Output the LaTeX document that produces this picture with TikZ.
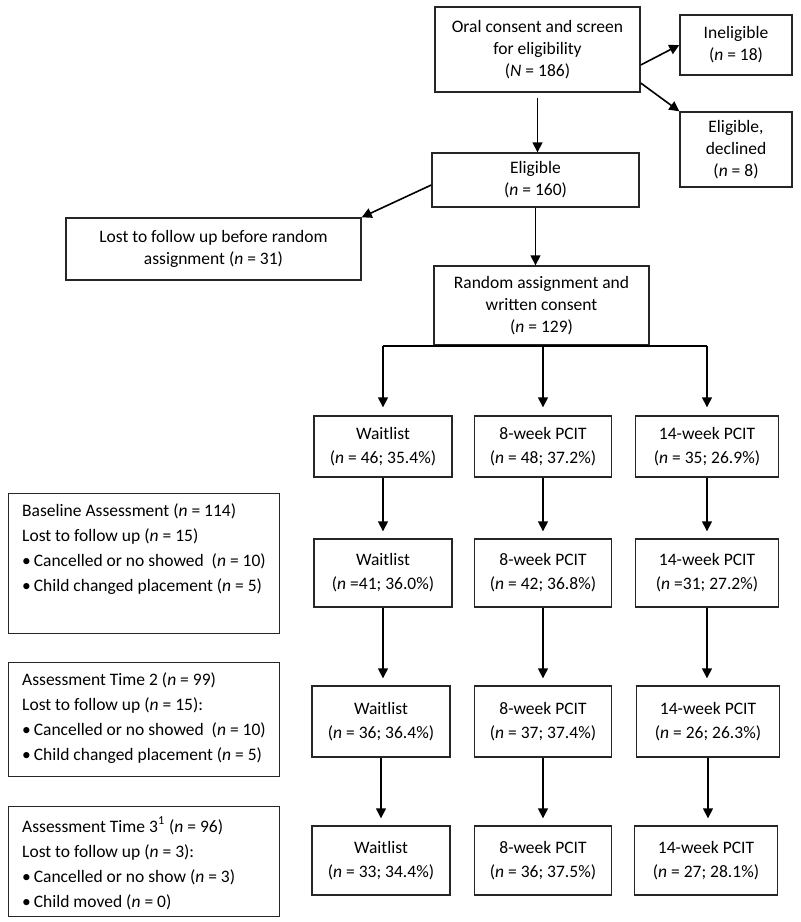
\documentclass[tikz,border=0pt]{standalone}
\usepackage{fontspec}
\setmainfont{Carlito}
\usepackage{tikz}
\usetikzlibrary{positioning,arrows.meta,calc}

\newcommand{\sidebox}[2]{\parbox[t][#1][t]{122pt}{#2}}

\begin{document}
\begin{tikzpicture}[
    x=0.5pt, y=-0.5pt,
    box/.style={rectangle, draw=black!85, line width=0.7pt, align=center, inner sep=0pt,
                font=\fontsize{8.75}{11}\selectfont},
    grp/.style={box, font=\fontsize{8.75}{12}\selectfont},
    side/.style={rectangle, draw=black!85, line width=0.7pt, anchor=north west, align=left,
                 inner xsep=6.5pt, inner ysep=5pt, minimum width=135.5pt,
                 font=\fontsize{8.75}{12.5}\selectfont},
    arrow/.style={-{Triangle[length=5pt,width=5pt]}, line width=0.8pt}
  ]
  \useasboundingbox (0,0) rectangle (800,922);

  % screening
  \node[box, minimum width=102.5pt, minimum height=42.5pt] (oral) at (537.5,49.5)
    {Oral consent and screen\\for eligibility\\(\textit{N} = 186)};
  \node[box, minimum width=56pt, minimum height=30pt] (inelig) at (736,45)
    {Ineligible\\(\textit{n} = 18)};
  \node[box, minimum width=56pt, minimum height=37.5pt] (declined) at (736,149.5)
    {Eligible,\\declined\\(\textit{n} = 8)};
  \node[box, minimum width=103.5pt, minimum height=27pt] (elig) at (535.5,180)
    {Eligible\\(\textit{n} = 160)};
  \node[box, minimum width=147.5pt, minimum height=31pt] (lost) at (213.5,249)
    {Lost to follow up before random\\assignment (\textit{n} = 31)};
  \node[box, minimum width=107.5pt, minimum height=39.5pt] (rand) at (541.5,305.5)
    {Random assignment and\\written consent\\(\textit{n} = 129)};

  % groups at assignment
  \node[grp, minimum width=69pt, minimum height=30.5pt] (wait1) at (383,446.5)
    {Waitlist\\(\textit{n} = 46; 35.4\%)};
  \node[grp, minimum width=68.5pt, minimum height=30.5pt] (pcit8a) at (543,446.5)
    {8-week PCIT\\(\textit{n} = 48; 37.2\%)};
  \node[grp, minimum width=71.5pt, minimum height=30.5pt] (pcit14a) at (707,446.5)
    {14-week PCIT\\(\textit{n} = 35; 26.9\%)};

  % baseline
  \node[grp, minimum width=69pt, minimum height=34pt] (wait2) at (383,573)
    {Waitlist\\(\textit{n} =41; 36.0\%)};
  \node[grp, minimum width=68.5pt, minimum height=34pt] (pcit8b) at (543,573)
    {8-week PCIT\\(\textit{n} = 42; 36.8\%)};
  \node[grp, minimum width=71.5pt, minimum height=34pt] (pcit14b) at (707,573)
    {14-week PCIT\\(\textit{n} =31; 27.2\%)};

  % time 2
  \node[grp, minimum width=69pt, minimum height=35.5pt] (wait3) at (381,721.5)
    {Waitlist\\(\textit{n} = 36; 36.4\%)};
  \node[grp, minimum width=68.5pt, minimum height=35.5pt] (pcit8c) at (543,721.5)
    {8-week PCIT\\(\textit{n} = 37; 37.4\%)};
  \node[grp, minimum width=71.5pt, minimum height=35.5pt] (pcit14c) at (708,721.5)
    {14-week PCIT\\(\textit{n} = 26; 26.3\%)};

  % time 3
  \node[grp, minimum width=69pt, minimum height=34.5pt] (wait4) at (381,860.5)
    {Waitlist\\(\textit{n} = 33; 34.4\%)};
  \node[grp, minimum width=68.5pt, minimum height=34.5pt] (pcit8d) at (543,860.5)
    {8-week PCIT\\(\textit{n} = 36; 37.5\%)};
  \node[grp, minimum width=71.5pt, minimum height=34.5pt] (pcit14d) at (706,860.5)
    {14-week PCIT\\(\textit{n} = 27; 28.1\%)};

  % assessment notes
  \node[side] (baseline) at (8,493) {\sidebox{60pt}{%
    Baseline Assessment (\textit{n} = 114)\\
    Lost to follow up (\textit{n} = 15)\\
    \textbullet\,Cancelled or no showed\ \ (\textit{n} = 10)\\
    \textbullet\,Child changed placement (\textit{n} = 5)}};
  \node[side] (time2) at (8,662) {\sidebox{47pt}{%
    Assessment Time 2 (\textit{n} = 99)\\
    Lost to follow up (\textit{n} = 15):\\
    \textbullet\,Cancelled or no showed\ \ (\textit{n} = 10)\\
    \textbullet\,Child changed placement (\textit{n} = 5)}};
  \node[side] (time3) at (8,806) {\sidebox{45pt}{%
    Assessment Time 3\textsuperscript{1} (\textit{n} = 96)\\
    Lost to follow up (\textit{n} = 3):\\
    \textbullet\,Cancelled or no show (\textit{n} = 3)\\
    \textbullet\,Child moved (\textit{n} = 0)}};

  % connectors
  \draw[arrow, shorten <=2.5pt] (oral.south) -- (oral.south |- elig.north);
  \draw[arrow] ([yshift=-7.75pt]oral.east) -- (inelig.west);
  \draw[arrow] ([yshift=-16.75pt]oral.east) -- (declined.north west);
  \draw[arrow] ([yshift=-2.5pt]elig.west) -- (lost.north east);
  \draw[arrow] (elig.south) -- (elig.south |- rand.north);

  \draw[line width=0.8pt] (rand.south -| wait1.north) -- (rand.south -| pcit14a.north);
  \draw[arrow, shorten >=4pt] (rand.south -| wait1.north) -- (wait1.north);
  \draw[arrow, shorten >=4pt] (rand.south -| pcit8a.north) -- (pcit8a.north);
  \draw[arrow, shorten >=4pt] (rand.south -| pcit14a.north) -- (pcit14a.north);

  \draw[arrow, shorten >=3.5pt] (wait1) -- (wait2);
  \draw[arrow, shorten >=3.5pt] (pcit8a) -- (pcit8b);
  \draw[arrow, shorten >=3.5pt] (pcit14a) -- (pcit14b);
  \draw[arrow, shorten >=3.5pt] (wait2.south) -- (wait2.south |- wait3.north);
  \draw[arrow, shorten >=3.5pt] (pcit8b) -- (pcit8c);
  \draw[arrow, shorten >=3.5pt] (pcit14b.south) -- (pcit14b.south |- pcit14c.north);
  \draw[arrow, shorten >=3.5pt] (wait3.south) -- (wait3.south |- wait4.north);
  \draw[arrow, shorten >=3.5pt] (pcit8c) -- (pcit8d);
  \draw[arrow, shorten >=3.5pt] (pcit14c.south) -- (pcit14c.south |- pcit14d.north);
\end{tikzpicture}
\end{document}
